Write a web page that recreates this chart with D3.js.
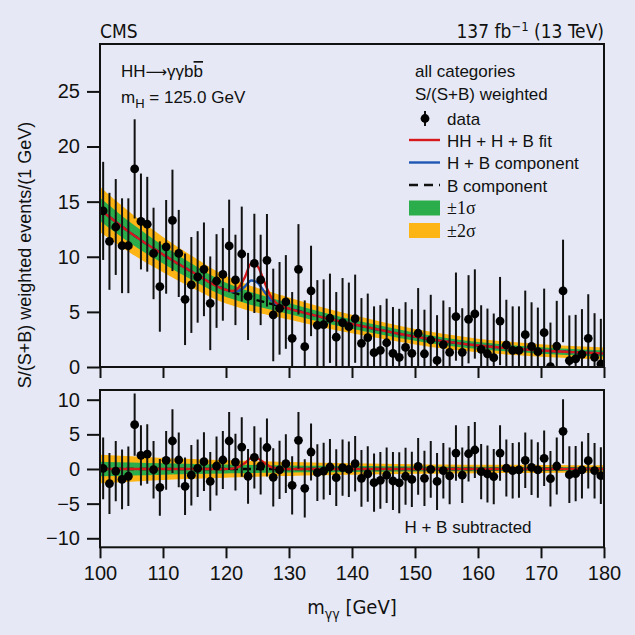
<!DOCTYPE html>
<html><head><meta charset="utf-8">
<script src="https://cdn.jsdelivr.net/npm/d3@7"></script>
<style>
html,body{margin:0;padding:0;background:#e6e9f5;}
text{font-family:"Liberation Sans",Arial,sans-serif;fill:#111;}
.cond{font-family:"Liberation Sans Narrow","DejaVu Sans Condensed","Liberation Sans",sans-serif;}
.serif{font-family:"Liberation Serif","DejaVu Serif",serif;}
</style></head>
<body>
<svg id="c" width="635" height="635"></svg>
<script>
// ---------- data ----------
const binCenters = d3.range(80).map(i => 100.5 + i);
const dataTop = [14.16,11.4,12.7,11.0,11.0,17.97,13.2,12.95,10.3,7.3,
  10.9,13.3,10.3,6.14,7.44,8.17,8.86,5.78,7.8,8.4,
  10.98,7.9,10.25,6.4,9.4,7.9,9.68,4.72,5.32,5.9,
  2.6,8.86,1.84,6.9,3.78,3.85,4.42,2.7,4.02,3.66,
  4.38,2.15,2.66,1.3,1.51,2.2,1.24,0.88,1.78,1.24,
  3.06,1.2,2.45,0.6,2.03,1.33,4.57,1.33,4.33,4.81,
  1.6,1.2,0.85,4.17,2.0,1.5,1.5,2.93,1.87,1.39,
  3.11,0.03,1.9,6.9,0.58,0.73,1.15,2.6,0.88,0.27];
const dataBot = [0.1,-2.1,-0.3,-1.5,-1.05,6.4,1.97,2.16,-0.1,-2.65,
  1.25,4.04,1.3,-2.5,-0.9,0.1,1.06,-1.78,0.43,1.3,
  4.04,1.0,3.17,-1.05,1.68,0.43,3.1,-1.2,-0.14,0.77,
  -2.36,4.14,-2.79,2.45,-0.53,-0.3,0.29,-1.25,0.2,-0.05,
  0.77,-1.35,-0.72,-1.97,-1.63,-0.9,-1.73,-2.0,-1.05,-1.5,
  0.38,-1.35,-0.05,-1.8,-0.24,-1.0,2.3,-0.9,2.2,2.74,
  -0.38,-0.72,-1.1,2.3,0.14,-0.24,-0.14,1.25,0.24,-0.14,
  1.54,-1.4,0.43,5.43,-0.82,-0.67,-0.14,1.2,-0.24,-0.96];
const dataErr = [4.45,4.4,4.35,4.3,4.3,4.5,4.35,4.3,4.15,4.1,
  4.25,4.6,3.95,4.15,4.35,4.15,4.25,4.25,4.25,4.2,
  4.2,4.1,4.3,3.95,4.5,4.1,4.2,4.2,4.2,4.25,
  4.2,4.1,4.2,4.1,4.1,4.1,4.05,4.1,4.05,4.0,
  4.0,4.1,4.0,4.2,4.1,4.0,4.2,4.4,4.1,4.0,
  4.1,4.0,4.1,4.1,4.0,4.1,4.0,4.0,4.0,4.05,
  4.0,4.1,4.0,4.0,4.1,4.0,4.0,4.0,4.0,4.0,
  4.0,4.0,4.1,4.65,4.1,4.0,4.1,4.0,4.0,4.1];
const fitX   = [100,105,110,115,120,121,122,123,124,125,126,127,128,129,130,135,140,145,150,155,160,165,170,175,180];
const bkgFit = [14.3,12.1,10.2,8.5,7.0,6.8,6.6,6.4,6.2,6.05,5.9,5.75,5.6,5.45,5.3,4.55,3.9,3.3,2.75,2.3,1.95,1.7,1.5,1.35,1.22];
const hSig   = [0,0,0,0,0,0.05,0.3,0.9,1.65,1.6,1.0,0.4,0.1,0.02,0,0,0,0,0,0,0,0,0,0,0];
const hhSig  = [0,0,0,0,0,0.05,0.3,0.85,1.55,1.5,0.95,0.35,0.1,0.02,0,0,0,0,0,0,0,0,0,0,0];
const bandX  = [100,110,120,130,140,150,160,170,180];
const band1  = [1.05,0.82,0.64,0.5,0.42,0.36,0.32,0.29,0.27];
const band2  = [2.05,1.6,1.25,1.0,0.83,0.7,0.62,0.57,0.54];
const xTicks = [100,110,120,130,140,150,160,170,180];
const yTicksTop = [0,5,10,15,20,25];
const yTicksBot = [-10,-5,0,5,10];

// ---------- layout ----------
const svg = d3.select("#c");
const L = 100, R = 604;
const x = d3.scaleLinear([100,180],[L,R]);
const yTop = d3.scaleLinear([0,29.3],[367,44]);
const yBot = d3.scaleLinear([-11.3,11.4],[547.3,390]);
const w1 = d3.scaleLinear(bandX, band1);
const w2 = d3.scaleLinear(bandX, band2);
const C = {orange:"#fdb515", green:"#2aad4a", red:"#d7191c", blue:"#1d56b3"};

const defs = svg.append("defs");
defs.append("clipPath").attr("id","clipT").append("rect").attr("x",L).attr("y",44).attr("width",R-L).attr("height",367-44);
defs.append("clipPath").attr("id","clipB").append("rect").attr("x",L).attr("y",390).attr("width",R-L).attr("height",547.3-390);

function panel(y, clip, centerVals, redVals, blueVals, dashVals, dataVals) {
  const g = svg.append("g").attr("clip-path", `url(#${clip})`);
  const idx = d3.range(fitX.length);
  const area = (w) => d3.area().curve(d3.curveMonotoneX)
      .x(i => x(fitX[i])).y0(i => y(centerVals[i] - w(fitX[i]))).y1(i => y(centerVals[i] + w(fitX[i])));
  g.append("path").attr("d", area(w2)(idx)).attr("fill", C.orange);
  g.append("path").attr("d", area(w1)(idx)).attr("fill", C.green);
  const line = (vals) => d3.line().curve(d3.curveMonotoneX).x(i => x(fitX[i])).y(i => y(vals[i]))(idx);
  g.append("path").attr("d", line(dashVals)).attr("fill","none").attr("stroke","#000").attr("stroke-width",2.4).attr("stroke-dasharray","8,5");
  if (blueVals) g.append("path").attr("d", line(blueVals)).attr("fill","none").attr("stroke",C.blue).attr("stroke-width",2.4);
  g.append("path").attr("d", line(redVals)).attr("fill","none").attr("stroke",C.red).attr("stroke-width",2.4);
  const pts = g.append("g");
  pts.selectAll("line").data(binCenters).join("line")
    .attr("x1",(d)=>x(d)).attr("x2",(d)=>x(d))
    .attr("y1",(d,i)=>y(dataVals[i]+dataErr[i])).attr("y2",(d,i)=>y(dataVals[i]-dataErr[i]))
    .attr("stroke","#111").attr("stroke-width",2);
  pts.selectAll("circle").data(binCenters).join("circle")
    .attr("cx",(d)=>x(d)).attr("cy",(d,i)=>y(dataVals[i])).attr("r",4.4).attr("fill","#000");
}

// upper panel
const blueTop = bkgFit.map((b,i)=>b+hSig[i]);
const redTop = bkgFit.map((b,i)=>b+hSig[i]+hhSig[i]);
panel(yTop, "clipT", bkgFit, redTop, blueTop, bkgFit, dataTop);
// lower panel
const zeros = fitX.map(()=>0);
panel(yBot, "clipB", zeros, hhSig, null, zeros, dataBot);

// frames
svg.append("rect").attr("x",L).attr("y",44).attr("width",R-L).attr("height",367-44).attr("fill","none").attr("stroke","#111").attr("stroke-width",2);
svg.append("rect").attr("x",L).attr("y",390).attr("width",R-L).attr("height",547.3-390).attr("fill","none").attr("stroke","#111").attr("stroke-width",2);

// axes
const minus = d => d < 0 ? "\u2212" + Math.abs(d) : String(d);
function styleAxis(sel){
  sel.select(".domain").remove();
  sel.selectAll(".tick line").attr("stroke","#111").attr("stroke-width",2);
  sel.selectAll(".tick text").attr("font-size",20).attr("fill","#111").attr("font-family","Liberation Sans, Arial, sans-serif");
}
svg.append("g").attr("transform",`translate(${L},0)`)
  .call(d3.axisLeft(yTop).tickValues(yTicksTop).tickSize(13).tickPadding(7)).call(styleAxis);
svg.append("g").attr("transform",`translate(${L},0)`)
  .call(d3.axisLeft(yBot).tickValues(yTicksBot).tickSize(13).tickPadding(7).tickFormat(minus)).call(styleAxis);
svg.append("g").attr("transform",`translate(0,367)`)
  .call(d3.axisBottom(x).tickValues(xTicks).tickSize(11).tickFormat("")).call(styleAxis);
svg.append("g").attr("transform",`translate(0,547.3)`)
  .call(d3.axisBottom(x).tickValues(xTicks).tickSize(11).tickPadding(8)).call(styleAxis);

// header
svg.append("text").attr("class","cond").attr("x",100).attr("y",38).attr("font-size",19).text("CMS");
const hr = svg.append("text").attr("class","cond").attr("x",604).attr("y",38).attr("font-size",19).attr("text-anchor","end");
hr.append("tspan").text("137 fb");
hr.append("tspan").attr("font-size",13).attr("dy",-7).text("\u22121");
hr.append("tspan").attr("dy",7).text(" (13 TeV)");

// axis titles
const yl = svg.append("text").attr("transform","translate(31,255) rotate(-90)").attr("text-anchor","middle").attr("font-size",18);
yl.text("S/(S+B) weighted events/(1 GeV)");
const xl = svg.append("text").attr("class","cond").attr("x",352).attr("y",614).attr("text-anchor","middle").attr("font-size",20);
xl.append("tspan").text("m");
xl.append("tspan").attr("font-size",14).attr("dy",5).text("\u03b3\u03b3");
xl.append("tspan").attr("dy",-5).text(" [GeV]");

// top-left labels
const t1 = svg.append("text").attr("x",121).attr("y",77).attr("font-size",17);
t1.append("tspan").text("HH");
t1.append("tspan").attr("font-family","DejaVu Sans, sans-serif").attr("font-size",15).text("\u27f6");
t1.append("tspan").text("\u03b3\u03b3b");
t1.append("tspan").style("text-decoration","overline").text("b");
const t2 = svg.append("text").attr("x",121).attr("y",103).attr("font-size",17);
t2.append("tspan").text("m");
t2.append("tspan").attr("font-size",13).attr("dy",5).text("H");
t2.append("tspan").attr("dy",-5).text(" = 125.0 GeV");

// legend
const lg = svg.append("g");
lg.append("text").attr("x",415).attr("y",77).attr("font-size",17).text("all categories");
lg.append("text").attr("x",415).attr("y",99.5).attr("font-size",17).text("S/(S+B) weighted");
lg.append("line").attr("x1",425).attr("x2",425).attr("y1",111).attr("y2",126).attr("stroke","#111").attr("stroke-width",2);
lg.append("circle").attr("cx",425).attr("cy",118.5).attr("r",4.4).attr("fill","#000");
lg.append("text").attr("x",447).attr("y",124.5).attr("font-size",17).text("data");
lg.append("line").attr("x1",409).attr("x2",440).attr("y1",140).attr("y2",140).attr("stroke",C.red).attr("stroke-width",2.4);
lg.append("text").attr("x",447).attr("y",146.5).attr("font-size",17).text("HH + H + B fit");
lg.append("line").attr("x1",409).attr("x2",440).attr("y1",162.5).attr("y2",162.5).attr("stroke",C.blue).attr("stroke-width",2.4);
lg.append("text").attr("x",447).attr("y",169).attr("font-size",17).text("H + B component");
lg.append("line").attr("x1",409).attr("x2",440).attr("y1",185).attr("y2",185).attr("stroke","#111").attr("stroke-width",2.4).attr("stroke-dasharray","9,6");
lg.append("text").attr("x",447).attr("y",191.5).attr("font-size",17).text("B component");
lg.append("rect").attr("x",409).attr("y",200.5).attr("width",31).attr("height",15).attr("fill",C.green);
lg.append("text").attr("class","serif").attr("x",447).attr("y",214).attr("font-size",18).text("\u00b11\u03c3");
lg.append("rect").attr("x",409).attr("y",223).attr("width",31).attr("height",15).attr("fill",C.orange);
lg.append("text").attr("class","serif").attr("x",447).attr("y",236.5).attr("font-size",18).text("\u00b12\u03c3");

svg.append("text").attr("x",468).attr("y",533).attr("text-anchor","middle").attr("font-size",17).text("H + B subtracted");
</script>
</body></html>
